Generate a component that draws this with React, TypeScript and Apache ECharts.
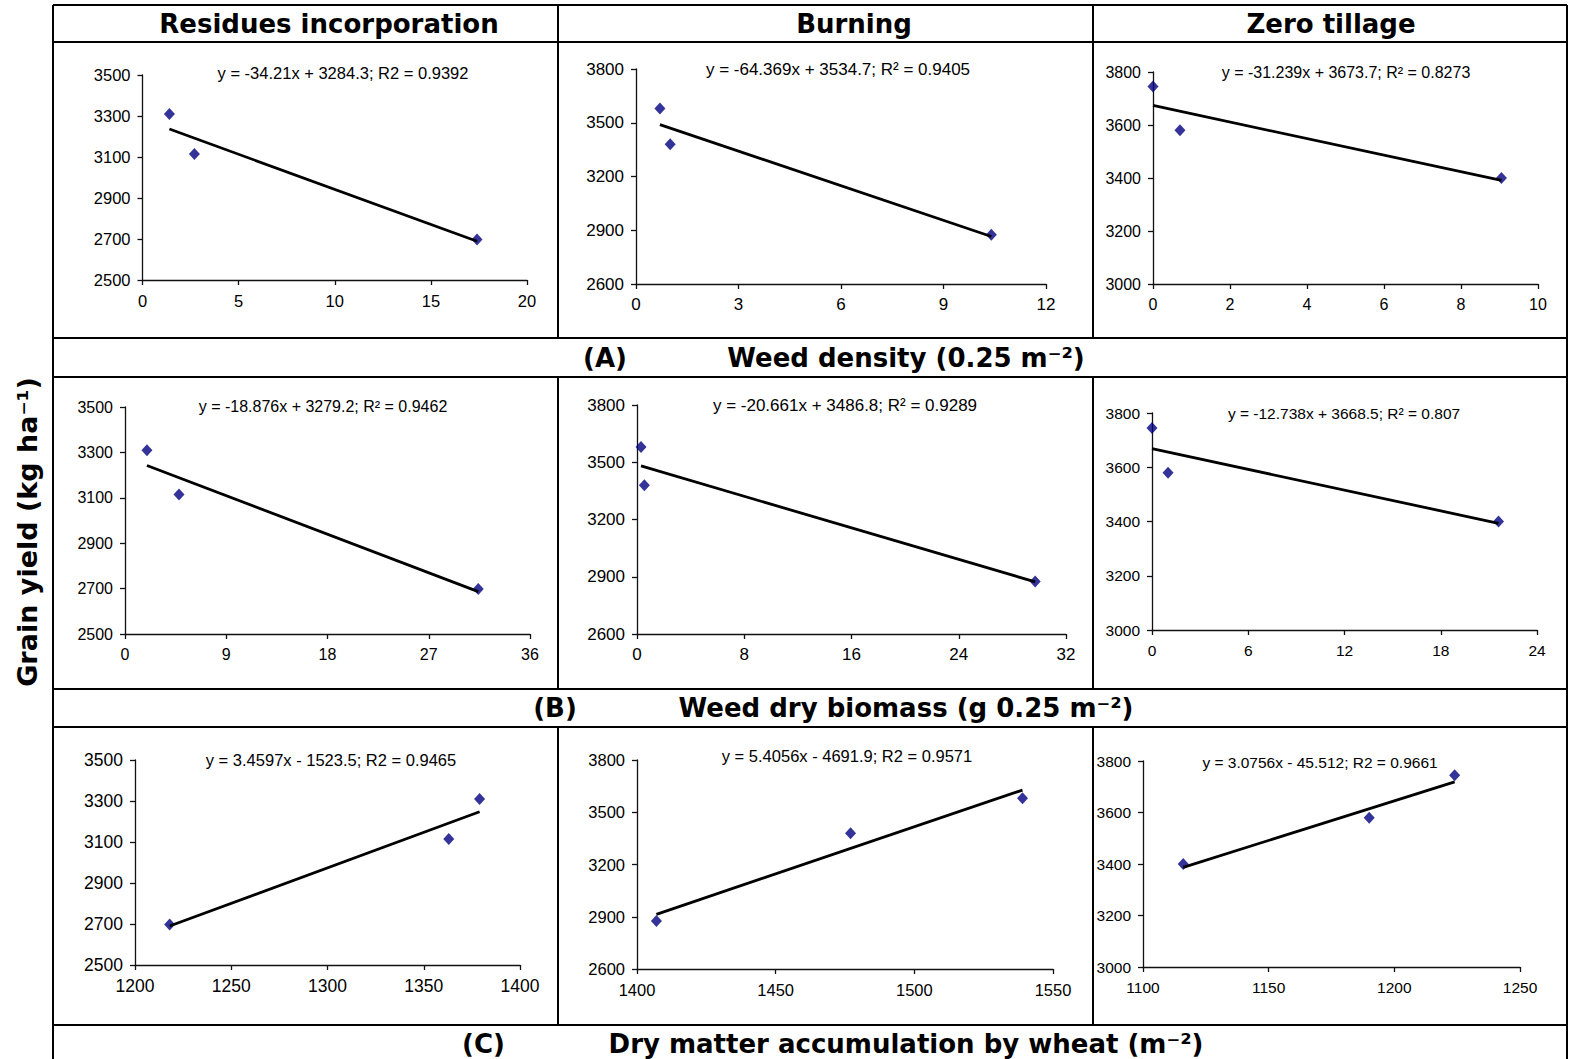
import React, { useEffect, useRef } from "react";
import * as echarts from "echarts";

// ---------- data ----------
const yieldRI = [3310, 3115, 2698];
const yieldBU = [3580, 3380, 2875];
const yieldZT = [3745, 3580, 3400];

const densityRI = [1.4, 2.7, 17.4];
const densityBU = [0.7, 1.0, 10.4];
const densityZT = [0, 0.7, 9.05];

const biomassRI = [1.95, 4.8, 31.4];
const biomassBU = [0.3, 0.55, 29.7];
const biomassZT = [0, 1.0, 21.6];

const dryMatterRI = [1379, 1363, 1218];
const dryMatterBU = [1539, 1477, 1407];
const dryMatterZT = [1224, 1190, 1116];

const slopes = [-34.21, -64.369, -31.239, -18.876, -20.661, -12.738, 3.4597, 5.4056, 3.0756];
const intercepts = [3284.3, 3534.7, 3673.7, 3279.2, 3486.8, 3668.5, -1523.5, -4691.9, -45.512];
const equations = [
  "y = -34.21x + 3284.3; R2 = 0.9392",
  "y = -64.369x + 3534.7; R\u00B2 = 0.9405",
  "y = -31.239x + 3673.7; R\u00B2 = 0.8273",
  "y = -18.876x + 3279.2; R\u00B2 = 0.9462",
  "y = -20.661x + 3486.8; R\u00B2 = 0.9289",
  "y = -12.738x + 3668.5; R\u00B2 = 0.807",
  "y = 3.4597x - 1523.5; R2 = 0.9465",
  "y = 5.4056x - 4691.9; R2 = 0.9571",
  "y = 3.0756x - 45.512; R2 = 0.9661",
];

const yTicksRI = [2500, 2700, 2900, 3100, 3300, 3500];
const yTicksBU = [2600, 2900, 3200, 3500, 3800];
const yTicksZT = [3000, 3200, 3400, 3600, 3800];

const xTicksDensRI = [0, 5, 10, 15, 20];
const xTicksDensBU = [0, 3, 6, 9, 12];
const xTicksDensZT = [0, 2, 4, 6, 8, 10];
const xTicksBioRI = [0, 9, 18, 27, 36];
const xTicksBioBU = [0, 8, 16, 24, 32];
const xTicksBioZT = [0, 6, 12, 18, 24];
const xTicksDmRI = [1200, 1250, 1300, 1350, 1400];
const xTicksDmBU = [1400, 1450, 1500, 1550];
const xTicksDmZT = [1100, 1150, 1200, 1250];

const columnTitles = ["Residues incorporation", "Burning", "Zero tillage"];
const rowLetters = ["(A)", "(B)", "(C)"];
const rowTitles = [
  "Weed density (0.25 m\u207B\u00B2)",
  "Weed dry biomass (g 0.25 m\u207B\u00B2)",
  "Dry matter accumulation by wheat (m\u207B\u00B2)",
];
const yTitle = "Grain yield (kg ha\u207B\u00B9)";

// ---------- panels ----------
const panelX = [densityRI, densityBU, densityZT, biomassRI, biomassBU, biomassZT, dryMatterRI, dryMatterBU, dryMatterZT];
const panelY = [yieldRI, yieldBU, yieldZT, yieldRI, yieldBU, yieldZT, yieldRI, yieldBU, yieldZT];
const panelXTicks = [xTicksDensRI, xTicksDensBU, xTicksDensZT, xTicksBioRI, xTicksBioBU, xTicksBioZT, xTicksDmRI, xTicksDmBU, xTicksDmZT];
const panelYTicks = [yTicksRI, yTicksBU, yTicksZT, yTicksRI, yTicksBU, yTicksZT, yTicksRI, yTicksBU, yTicksZT];

// layout (left, top, width, height)
const gridBoxes = [
  [142.5, 75, 384.5, 205],
  [636, 69, 410, 215],
  [1153, 72, 385, 212],
  [125, 407, 405, 227],
  [637, 405, 429, 229],
  [1152, 413, 385, 217],
  [135, 760, 385, 205],
  [637, 760, 416, 209],
  [1143, 761, 377, 206],
];
const tickFont = [16.5, 17, 16, 16, 17, 15.5, 17.5, 16.5, 15.5];
const eqFont = [16.5, 17, 16, 16, 17, 15.5, 16.5, 16.5, 15.5];
const eqPos = [
  [343, 73], [838, 69], [1346, 72],
  [323, 406], [845, 405], [1344, 413],
  [331, 760], [847, 756], [1320, 762],
];

const LINE = "#000";
const NUM_FONT = "Liberation Sans, Arial, sans-serif";
const BOLD_FONT = "DejaVu Sans, Verdana, sans-serif";

function buildOption() {
  const grid = gridBoxes.map((g) => ({ left: g[0], top: g[1], width: g[2], height: g[3] }));
  const fmt = (v: number) => String(v);
  const xAxis = panelXTicks.map((t, i) => ({
    type: "value",
    gridIndex: i,
    min: t[0],
    max: t[t.length - 1],
    axisLine: { show: true, onZero: false, lineStyle: { color: "#111", width: 1.3 } },
    axisTick: { show: true, length: 5, customValues: t, lineStyle: { color: "#111", width: 1.3 } },
    axisLabel: { show: true, customValues: t, formatter: fmt, fontSize: tickFont[i], fontFamily: NUM_FONT, color: "#000", margin: 12 },
    splitLine: { show: false },
  }));
  const yAxis = panelYTicks.map((t, i) => ({
    type: "value",
    gridIndex: i,
    min: t[0],
    max: t[t.length - 1],
    axisLine: { show: true, onZero: false, lineStyle: { color: "#111", width: 1.3 } },
    axisTick: { show: true, length: 5, customValues: t, lineStyle: { color: "#111", width: 1.3 } },
    axisLabel: { show: true, customValues: t, formatter: fmt, fontSize: tickFont[i], fontFamily: NUM_FONT, color: "#000", margin: 12 },
    splitLine: { show: false },
  }));
  const series: any[] = [];
  panelX.forEach((xs, i) => {
    const ys = panelY[i];
    series.push({
      type: "scatter",
      xAxisIndex: i,
      yAxisIndex: i,
      data: xs.map((x, j) => [x, ys[j]]),
      symbol: "diamond",
      symbolSize: [11, 12],
      itemStyle: { color: "#000080" },
      z: 2,
      silent: true,
    });
    const xmin = Math.min(...xs);
    const xmax = Math.max(...xs);
    series.push({
      type: "line",
      xAxisIndex: i,
      yAxisIndex: i,
      data: [
        [xmin, slopes[i] * xmin + intercepts[i]],
        [xmax, slopes[i] * xmax + intercepts[i]],
      ],
      symbol: "none",
      lineStyle: { color: "#000", width: 2.8 },
      z: 3,
      silent: true,
    });
  });

  const L = 53, R = 1567, T = 5, B = 1059;
  const hLines = [5, 42, 338, 377, 689, 727, 1025];
  const cols = [558, 1093];
  const vSegments = [
    [T, 42], [42, 338], [377, 689], [727, 1025],
  ];
  const graphic: any[] = [];
  const addLine = (x1: number, y1: number, x2: number, y2: number) =>
    graphic.push({ type: "line", shape: { x1, y1, x2, y2 }, style: { stroke: LINE, lineWidth: 2 }, silent: true });
  hLines.forEach((y) => addLine(L, y, R, y));
  addLine(L, T, L, B);
  addLine(R, T, R, B);
  cols.forEach((x) => vSegments.forEach((s) => addLine(x, s[0], x, s[1])));

  const addText = (text: string, x: number, y: number, size: number, bold: boolean, family: string, rotation = 0) =>
    graphic.push({
      type: "text",
      x,
      y,
      rotation,
      silent: true,
      style: {
        text,
        fill: "#000",
        fontSize: size,
        fontWeight: bold ? "bold" : "normal",
        fontFamily: family,
        align: "center",
        verticalAlign: "middle",
        textAlign: "center",
        textVerticalAlign: "middle",
      },
    });

  const colCenters = [329, 854, 1331];
  columnTitles.forEach((t, i) => addText(t, colCenters[i], 24, 26, true, BOLD_FONT));
  const letterX = [605, 555, 483.5];
  const rowY = [358, 708, 1044];
  rowLetters.forEach((t, i) => addText(t, letterX[i], rowY[i], 26, true, BOLD_FONT));
  rowTitles.forEach((t, i) => addText(t, 906, rowY[i], 26, true, BOLD_FONT));
  addText(yTitle, 27, 532, 27, true, BOLD_FONT, Math.PI / 2);
  equations.forEach((t, i) => addText(t, eqPos[i][0], eqPos[i][1], eqFont[i], false, NUM_FONT));

  return {
    animation: false,
    backgroundColor: "#fff",
    grid,
    xAxis,
    yAxis,
    series,
    graphic,
  };
}

export default function App() {
  const ref = useRef<HTMLDivElement>(null);
  useEffect(() => {
    document.body.style.margin = "0";
    if (!ref.current) return;
    const chart = echarts.init(ref.current, undefined, { renderer: "svg" });
    chart.setOption(buildOption() as any);
    return () => chart.dispose();
  }, []);
  return <div ref={ref} style={{ width: 1573, height: 1059, background: "#fff" }} />;
}
